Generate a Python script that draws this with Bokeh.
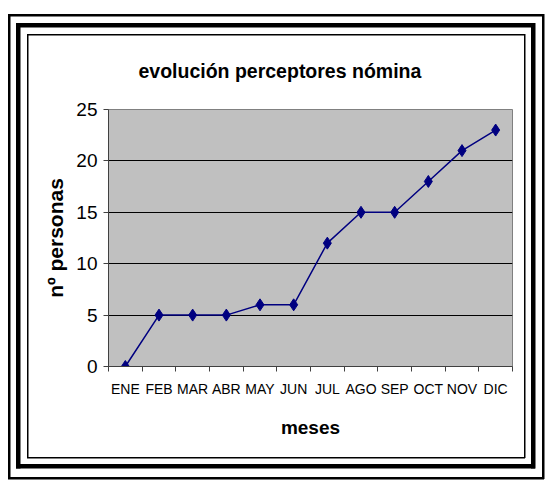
from bokeh.plotting import figure
from bokeh.models import FixedTicker, Range1d
from bokeh.embed import file_html
from bokeh.resources import INLINE

months = ["ENE", "FEB", "MAR", "ABR", "MAY", "JUN", "JUL", "AGO", "SEP", "OCT", "NOV", "DIC"]
personas = [0, 5, 5, 5, 6, 6, 12, 15, 15, 18, 21, 23]
y_ticks = [0, 5, 10, 15, 20, 25]
title_text = "evolución perceptores nómina"
x_title = "meses"
y_title = "nº personas"

xs = [i + 0.5 for i in range(len(months))]

W, H = 546, 481

# decorative frame rectangles (page pixels): left, top, right, bottom, line width
frames = [(8, 14, 544, 479, 2.5), (16, 23, 535, 468.5, 4.5), (27, 34, 525, 458, 1.5)]
layers = []
for (l, t, r, b, w) in frames:
    layers.append(f"linear-gradient(#000,#000) {l}px {t}px / {r - l}px {w}px no-repeat")
    layers.append(f"linear-gradient(#000,#000) {l}px {b - w}px / {r - l}px {w}px no-repeat")
    layers.append(f"linear-gradient(#000,#000) {l}px {t}px / {w}px {b - t}px no-repeat")
    layers.append(f"linear-gradient(#000,#000) {r - w}px {t}px / {w}px {b - t}px no-repeat")
bg = ", ".join(layers) + ", #ffffff"

p = figure(width=W, height=H, output_backend="svg", toolbar_location=None,
           x_range=Range1d(0, len(months)), y_range=Range1d(0, 25),
           min_border_left=108, min_border_right=W - 512, min_border_top=109, min_border_bottom=H - 366,
           styles={"background": bg})
p.background_fill_color = "#C0C0C0"
p.border_fill_alpha = 0
p.outline_line_color = "#808080"
p.outline_line_width = 1

p.title.text = title_text
p.title.text_font = "Liberation Sans"
p.title.text_font_style = "bold"
p.title.text_font_size = "19.5px"
p.title.align = "left"
p.title.offset = 30
p.title.standoff = 55
p.title.text_color = "black"

# y axis
p.yaxis.ticker = FixedTicker(ticks=y_ticks)
p.yaxis.major_label_text_font = "Liberation Sans"
p.yaxis.major_label_text_font_size = "19px"
p.yaxis.major_label_text_color = "black"
p.yaxis.major_tick_out = 5
p.yaxis.major_tick_in = 0
p.yaxis.minor_tick_out = 0
p.yaxis.minor_tick_in = 0
p.yaxis.major_label_standoff = 6
p.yaxis.axis_line_color = "#404040"
p.yaxis.major_tick_line_color = "#404040"
p.yaxis.axis_label = y_title
p.yaxis.axis_label_text_font = "Liberation Sans"
p.yaxis.axis_label_text_font_style = "bold"
p.yaxis.axis_label_text_font_size = "21px"
p.yaxis.axis_label_text_color = "black"
p.yaxis.axis_label_standoff = 6

# x axis: labels at centers, ticks at category boundaries
p.xaxis.ticker = FixedTicker(ticks=xs, minor_ticks=list(range(len(months) + 1)))
p.xaxis.major_label_overrides = {x: m for x, m in zip(xs, months)}
p.xaxis.major_label_text_font = "Liberation Sans"
p.xaxis.major_label_text_font_size = "14px"
p.xaxis.major_label_text_color = "black"
p.xaxis.major_tick_out = 0
p.xaxis.major_tick_in = 0
p.xaxis.minor_tick_out = 5
p.xaxis.minor_tick_in = 0
p.xaxis.major_label_standoff = 9
p.xaxis.axis_line_color = "#404040"
p.xaxis.minor_tick_line_color = "#404040"
p.xaxis.axis_label = x_title
p.xaxis.axis_label_text_font = "Liberation Sans"
p.xaxis.axis_label_text_font_style = "bold"
p.xaxis.axis_label_text_font_size = "19px"
p.xaxis.axis_label_text_color = "black"
p.xaxis.axis_label_standoff = 17

p.xgrid.visible = False
p.ygrid.ticker = FixedTicker(ticks=[5, 10, 15, 20])
p.ygrid.grid_line_color = "black"
p.ygrid.grid_line_width = 1

p.line(xs, personas, line_color="#000080", line_width=1.5)
p.scatter(xs, personas, marker="diamond", size=12, fill_color="#000080", line_color="#000080")

open("out.html", "w").write(file_html(p, INLINE))
